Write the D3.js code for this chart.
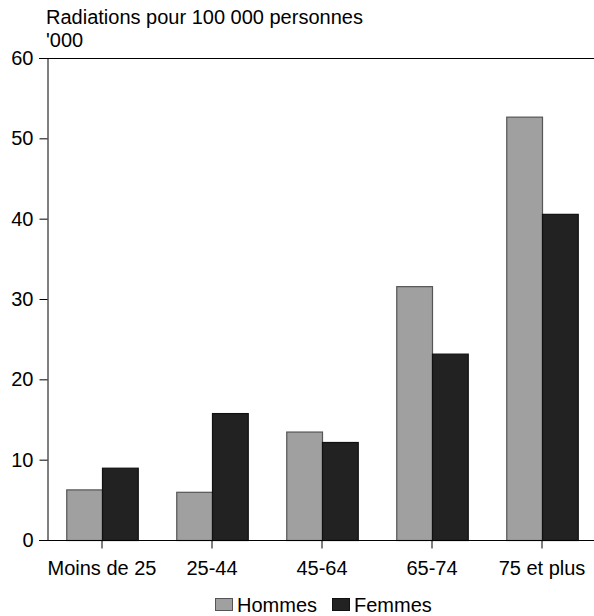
<!DOCTYPE html>
<html>
<head>
<meta charset="utf-8">
<script src="https://cdn.jsdelivr.net/npm/d3@7"></script>
<style>
  body { margin: 0; background: #fff; }
  text { font-family: "Liberation Sans", Arial, sans-serif; }
</style>
</head>
<body>
<div class="canvas"></div>
<script>
// data
const categories = ['Moins de 25', '25-44', '45-64', '65-74', '75 et plus']
const seriesNames = ['Hommes', 'Femmes']
const hommes = [6.3, 6.0, 13.5, 31.6, 52.7]
const femmes = [9.0, 15.8, 12.2, 23.2, 40.6]
const yTicks = [0, 10, 20, 30, 40, 50, 60]

const svgWidth = 594
const svgHeight = 616

// plot area in px
const plot = {left: 47, right: 597, top: 58, bottom: 540}

const colors = {Hommes: '#a0a0a0', Femmes: '#222222'}
const strokes = {Hommes: '#555555', Femmes: '#111111'}

const svg = d3.select('.canvas')
    .append('svg')
    .attr('width', svgWidth)
    .attr('height', svgHeight)

const x0 = d3.scaleBand()
    .domain(categories)
    .range([plot.left, plot.right])
    .paddingInner(0.35)
    .paddingOuter(0.175)

const x1 = d3.scaleBand()
    .domain(seriesNames)
    .range([0, x0.bandwidth()])

const y = d3.scaleLinear()
    .domain([0, 60])
    .range([plot.bottom, plot.top])

const rows = categories.map((c, i) => ({cat: c, Hommes: hommes[i], Femmes: femmes[i]}))

// bars
const groups = svg.append('g').selectAll('g')
    .data(rows)
    .enter().append('g')
    .attr('transform', d => `translate(${x0(d.cat)},0)`)

groups.selectAll('rect')
    .data(d => seriesNames.map(s => ({s: s, v: d[s]})))
    .enter().append('rect')
    .attr('x', d => x1(d.s) + 0.5)
    .attr('y', d => y(d.v) + 0.5)
    .attr('width', x1.bandwidth())
    .attr('height', d => y(0) - y(d.v))
    .attr('fill', d => colors[d.s])
    .attr('stroke', d => strokes[d.s])
    .attr('stroke-width', 1.2)

// top border line
svg.append('line')
    .attr('x1', plot.left - 8).attr('x2', svgWidth)
    .attr('y1', y(60) + 0.5).attr('y2', y(60) + 0.5)
    .attr('stroke', '#000')

// y axis
const yAxis = d3.axisLeft(y)
    .tickValues(yTicks)
    .tickSize(8)
    .tickPadding(6)
    .tickSizeOuter(0)

const yAxisGroup = svg.append('g')
    .attr('transform', `translate(${plot.left + 0.5},0)`)
    .call(yAxis)
yAxisGroup.selectAll('text')
    .attr('font-size', '20px')
    .attr('fill', '#000')
    .attr('font-family', '"Liberation Sans", Arial, sans-serif')
yAxisGroup.selectAll('line, path').attr('stroke', '#000')

// x axis
const xAxis = d3.axisBottom(x0)
    .tickSize(8)
    .tickSizeOuter(0)

const xAxisGroup = svg.append('g')
    .attr('transform', `translate(0,${plot.bottom + 0.5})`)
    .call(xAxis)
xAxisGroup.select('.domain').remove()
xAxisGroup.append('line')
    .attr('x1', plot.left - 8).attr('x2', svgWidth)
    .attr('stroke', '#000')
xAxisGroup.selectAll('line').attr('stroke', '#000')
xAxisGroup.selectAll('text')
    .attr('y', 34)
    .attr('dy', 0)
    .attr('font-size', '20px')
    .attr('fill', '#000')
    .attr('font-family', '"Liberation Sans", Arial, sans-serif')

// title
svg.append('text')
    .attr('x', 46).attr('y', 24)
    .attr('font-size', '20px')
    .text('Radiations pour 100 000 personnes')
svg.append('text')
    .attr('x', 46).attr('y', 47)
    .attr('font-size', '20px')
    .text("'000")

// legend
const legendPos = [{x: 215, tx: 237}, {x: 332, tx: 354}]
const legend = svg.append('g').selectAll('g')
    .data(seriesNames)
    .enter().append('g')

legend.append('rect')
    .attr('x', (d, i) => legendPos[i].x + 0.5)
    .attr('y', 598.5)
    .attr('width', 17)
    .attr('height', 12)
    .attr('fill', d => colors[d])
    .attr('stroke', d => strokes[d])

legend.append('text')
    .attr('x', (d, i) => legendPos[i].tx)
    .attr('y', 612)
    .attr('font-size', '20px')
    .text(d => d)
</script>
</body>
</html>
